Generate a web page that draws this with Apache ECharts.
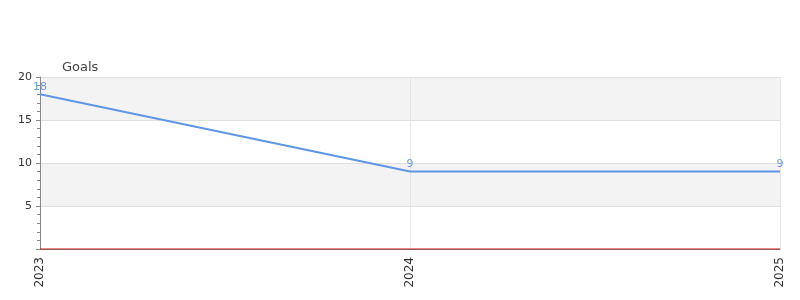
<!DOCTYPE html>
<html><head><meta charset="utf-8">
<script src="https://cdn.jsdelivr.net/npm/echarts@6/dist/echarts.min.js"></script>
<style>html,body{margin:0;padding:0;background:#fff}#c{width:800px;height:300px}</style>
</head><body><div id="c"></div>
<script>
const categories = ['2023', '2024', '2025'];
const goals = [18, 9, 9];
const baseline = [0, 0, 0];
const yTicks = [0, 5, 10, 15, 20];

const chart = echarts.init(document.getElementById('c'), null, {renderer: 'canvas'});
chart.setOption({
  animation: false,
  backgroundColor: '#fff',
  grid: {left: 40, right: 20, top: 77, bottom: 51, containLabel: false},
  xAxis: {
    type: 'category',
    data: categories,
    boundaryGap: false,
    axisLine: {show: true, lineStyle: {color: '#777', width: 1}},
    axisTick: {show: false},
    axisLabel: {rotate: 90, color: '#333', fontSize: 12, margin: 8, fontFamily: 'DejaVu Sans'},
    splitLine: {show: true, lineStyle: {color: '#e6e6e6'}}
  },
  yAxis: {
    type: 'value',
    min: yTicks[0],
    max: yTicks[yTicks.length - 1],
    interval: 5,
    name: 'Goals',
    nameLocation: 'end',
    nameGap: 3,
    nameTextStyle: {align: 'left', padding: [0, 0, 0, 22], color: '#444', fontSize: 13, fontFamily: 'DejaVu Sans'},
    axisLine: {show: true, lineStyle: {color: '#888'}},
    axisTick: {show: true, length: 4, lineStyle: {color: '#888'}},
    minorTick: {show: true, splitNumber: 5, length: 3, lineStyle: {color: '#888'}},
    axisLabel: {color: '#333', fontSize: 11, showMinLabel: false, margin: 8, fontFamily: 'DejaVu Sans'},
    splitLine: {show: true, lineStyle: {color: '#e0e0e0'}},
    splitArea: {show: true, areaStyle: {color: ['#ffffff', '#f3f3f3']}}
  },
  series: [
    {
      type: 'line',
      data: goals,
      symbol: 'circle',
      symbolSize: 0,
      lineStyle: {color: '#6096e6', width: 2},
      itemStyle: {color: '#6096e6'},
      label: {show: true, position: 'top', distance: 2, color: '#6a9be6', fontSize: 11, fontFamily: 'DejaVu Sans'},
      z: 3
    },
    {
      type: 'line',
      data: baseline,
      symbol: 'none',
      lineStyle: {color: '#dd1111', width: 1},
      z: 2
    }
  ]
});
</script></body></html>
